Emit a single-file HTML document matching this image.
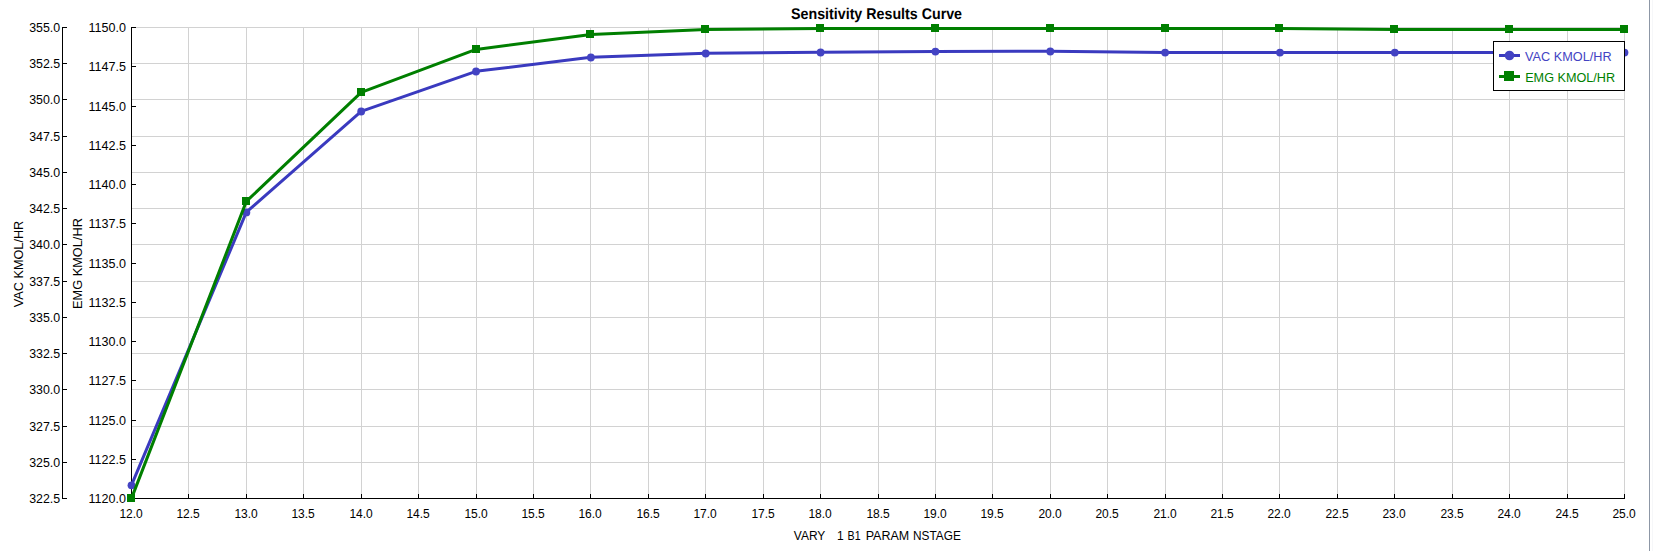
<!DOCTYPE html>
<html><head><meta charset="utf-8"><title>Sensitivity Results Curve</title>
<style>html,body{margin:0;padding:0;background:#fff;overflow:hidden}svg{display:block}</style>
</head><body>
<svg width="1653" height="551" viewBox="0 0 1653 551"><path d="M131 27.5H1625 M131 63.5H1625 M131 99.5H1625 M131 136.5H1625 M131 172.5H1625 M131 208.5H1625 M131 244.5H1625 M131 281.5H1625 M131 317.5H1625 M131 353.5H1625 M131 389.5H1625 M131 426.5H1625 M131 462.5H1625 M188.5 27V498 M246.5 27V498 M303.5 27V498 M361.5 27V498 M418.5 27V498 M476.5 27V498 M533.5 27V498 M590.5 27V498 M648.5 27V498 M705.5 27V498 M763.5 27V498 M820.5 27V498 M878.5 27V498 M935.5 27V498 M992.5 27V498 M1050.5 27V498 M1107.5 27V498 M1165.5 27V498 M1222.5 27V498 M1279.5 27V498 M1337.5 27V498 M1394.5 27V498 M1452.5 27V498 M1509.5 27V498 M1567.5 27V498 M1624.5 27V498" stroke="#d2d2d2" stroke-width="1" fill="none" shape-rendering="crispEdges"/>
<path d="M131.5 27V499 M131 498.5H1625 M62.5 27V499 M62 27.5H67 M62 63.5H67 M62 99.5H67 M62 136.5H67 M62 172.5H67 M62 208.5H67 M62 244.5H67 M62 281.5H67 M62 317.5H67 M62 353.5H67 M62 389.5H67 M62 426.5H67 M62 462.5H67 M62 498.5H67 M131 27.5H136 M131 66.5H136 M131 106.5H136 M131 145.5H136 M131 184.5H136 M131 223.5H136 M131 263.5H136 M131 302.5H136 M131 341.5H136 M131 380.5H136 M131 420.5H136 M131 459.5H136 M131 498.5H136 M131.5 494V499 M188.5 494V499 M246.5 494V499 M303.5 494V499 M361.5 494V499 M418.5 494V499 M476.5 494V499 M533.5 494V499 M590.5 494V499 M648.5 494V499 M705.5 494V499 M763.5 494V499 M820.5 494V499 M878.5 494V499 M935.5 494V499 M992.5 494V499 M1050.5 494V499 M1107.5 494V499 M1165.5 494V499 M1222.5 494V499 M1279.5 494V499 M1337.5 494V499 M1394.5 494V499 M1452.5 494V499 M1509.5 494V499 M1567.5 494V499 M1624.5 494V499" stroke="#000" stroke-width="1" fill="none" shape-rendering="crispEdges"/>
<polyline points="131.50,485.10 246.35,212.20 361.19,111.30 476.04,71.30 590.88,57.30 705.73,53.30 820.58,52.30 935.42,51.40 1050.27,51.30 1165.12,52.40 1279.96,52.40 1394.81,52.40 1509.65,52.40 1624.50,52.40" fill="none" stroke="#3a3abf" stroke-width="3" stroke-linejoin="round"/>
<circle cx="131.50" cy="485.30" r="3.9" fill="#4343c3"/>
<circle cx="246.35" cy="212.40" r="3.9" fill="#4343c3"/>
<circle cx="361.19" cy="111.50" r="3.9" fill="#4343c3"/>
<circle cx="476.04" cy="71.50" r="3.9" fill="#4343c3"/>
<circle cx="590.88" cy="57.50" r="3.9" fill="#4343c3"/>
<circle cx="705.73" cy="53.50" r="3.9" fill="#4343c3"/>
<circle cx="820.58" cy="52.50" r="3.9" fill="#4343c3"/>
<circle cx="935.42" cy="51.60" r="3.9" fill="#4343c3"/>
<circle cx="1050.27" cy="51.50" r="3.9" fill="#4343c3"/>
<circle cx="1165.12" cy="52.60" r="3.9" fill="#4343c3"/>
<circle cx="1279.96" cy="52.60" r="3.9" fill="#4343c3"/>
<circle cx="1394.81" cy="52.60" r="3.9" fill="#4343c3"/>
<circle cx="1509.65" cy="52.60" r="3.9" fill="#4343c3"/>
<circle cx="1624.50" cy="52.60" r="3.9" fill="#4343c3"/>
<polyline points="131.50,498.40 246.35,201.40 361.19,92.40 476.04,49.40 590.88,34.40 705.73,29.40 820.58,28.40 935.42,28.40 1050.27,28.40 1165.12,28.40 1279.96,28.40 1394.81,29.40 1509.65,29.40 1624.50,29.40" fill="none" stroke="#007f00" stroke-width="3" stroke-linejoin="round"/>
<rect x="127" y="494" width="8" height="8" fill="#007f00" shape-rendering="crispEdges"/>
<rect x="242" y="197" width="8" height="8" fill="#007f00" shape-rendering="crispEdges"/>
<rect x="357" y="88" width="8" height="8" fill="#007f00" shape-rendering="crispEdges"/>
<rect x="472" y="45" width="8" height="8" fill="#007f00" shape-rendering="crispEdges"/>
<rect x="586" y="30" width="8" height="8" fill="#007f00" shape-rendering="crispEdges"/>
<rect x="701" y="25" width="8" height="8" fill="#007f00" shape-rendering="crispEdges"/>
<rect x="816" y="24" width="8" height="8" fill="#007f00" shape-rendering="crispEdges"/>
<rect x="931" y="24" width="8" height="8" fill="#007f00" shape-rendering="crispEdges"/>
<rect x="1046" y="24" width="8" height="8" fill="#007f00" shape-rendering="crispEdges"/>
<rect x="1161" y="24" width="8" height="8" fill="#007f00" shape-rendering="crispEdges"/>
<rect x="1275" y="24" width="8" height="8" fill="#007f00" shape-rendering="crispEdges"/>
<rect x="1390" y="25" width="8" height="8" fill="#007f00" shape-rendering="crispEdges"/>
<rect x="1505" y="25" width="8" height="8" fill="#007f00" shape-rendering="crispEdges"/>
<rect x="1620" y="25" width="8" height="8" fill="#007f00" shape-rendering="crispEdges"/>
<g font-family='"Liberation Sans", sans-serif' font-size="12" fill="#000"><text x="60.2" y="31.6" text-anchor="end" textLength="31.0" lengthAdjust="spacingAndGlyphs">355.0</text><text x="60.2" y="67.6" text-anchor="end" textLength="31.0" lengthAdjust="spacingAndGlyphs">352.5</text><text x="60.2" y="103.6" text-anchor="end" textLength="31.0" lengthAdjust="spacingAndGlyphs">350.0</text><text x="60.2" y="140.6" text-anchor="end" textLength="31.0" lengthAdjust="spacingAndGlyphs">347.5</text><text x="60.2" y="176.6" text-anchor="end" textLength="31.0" lengthAdjust="spacingAndGlyphs">345.0</text><text x="60.2" y="212.6" text-anchor="end" textLength="31.0" lengthAdjust="spacingAndGlyphs">342.5</text><text x="60.2" y="248.6" text-anchor="end" textLength="31.0" lengthAdjust="spacingAndGlyphs">340.0</text><text x="60.2" y="285.6" text-anchor="end" textLength="31.0" lengthAdjust="spacingAndGlyphs">337.5</text><text x="60.2" y="321.6" text-anchor="end" textLength="31.0" lengthAdjust="spacingAndGlyphs">335.0</text><text x="60.2" y="357.6" text-anchor="end" textLength="31.0" lengthAdjust="spacingAndGlyphs">332.5</text><text x="60.2" y="393.6" text-anchor="end" textLength="31.0" lengthAdjust="spacingAndGlyphs">330.0</text><text x="60.2" y="430.6" text-anchor="end" textLength="31.0" lengthAdjust="spacingAndGlyphs">327.5</text><text x="60.2" y="466.6" text-anchor="end" textLength="31.0" lengthAdjust="spacingAndGlyphs">325.0</text><text x="60.2" y="502.6" text-anchor="end" textLength="31.0" lengthAdjust="spacingAndGlyphs">322.5</text><text x="126.0" y="31.6" text-anchor="end" textLength="37.5" lengthAdjust="spacingAndGlyphs">1150.0</text><text x="126.0" y="70.6" text-anchor="end" textLength="37.5" lengthAdjust="spacingAndGlyphs">1147.5</text><text x="126.0" y="110.6" text-anchor="end" textLength="37.5" lengthAdjust="spacingAndGlyphs">1145.0</text><text x="126.0" y="149.6" text-anchor="end" textLength="37.5" lengthAdjust="spacingAndGlyphs">1142.5</text><text x="126.0" y="188.6" text-anchor="end" textLength="37.5" lengthAdjust="spacingAndGlyphs">1140.0</text><text x="126.0" y="227.6" text-anchor="end" textLength="37.5" lengthAdjust="spacingAndGlyphs">1137.5</text><text x="126.0" y="267.6" text-anchor="end" textLength="37.5" lengthAdjust="spacingAndGlyphs">1135.0</text><text x="126.0" y="306.6" text-anchor="end" textLength="37.5" lengthAdjust="spacingAndGlyphs">1132.5</text><text x="126.0" y="345.6" text-anchor="end" textLength="37.5" lengthAdjust="spacingAndGlyphs">1130.0</text><text x="126.0" y="384.6" text-anchor="end" textLength="37.5" lengthAdjust="spacingAndGlyphs">1127.5</text><text x="126.0" y="424.6" text-anchor="end" textLength="37.5" lengthAdjust="spacingAndGlyphs">1125.0</text><text x="126.0" y="463.6" text-anchor="end" textLength="37.5" lengthAdjust="spacingAndGlyphs">1122.5</text><text x="126.0" y="502.6" text-anchor="end" textLength="37.5" lengthAdjust="spacingAndGlyphs">1120.0</text><text x="131.1" y="517.6" text-anchor="middle">12.0</text><text x="188.1" y="517.6" text-anchor="middle">12.5</text><text x="246.1" y="517.6" text-anchor="middle">13.0</text><text x="303.1" y="517.6" text-anchor="middle">13.5</text><text x="361.1" y="517.6" text-anchor="middle">14.0</text><text x="418.1" y="517.6" text-anchor="middle">14.5</text><text x="476.1" y="517.6" text-anchor="middle">15.0</text><text x="533.1" y="517.6" text-anchor="middle">15.5</text><text x="590.1" y="517.6" text-anchor="middle">16.0</text><text x="648.1" y="517.6" text-anchor="middle">16.5</text><text x="705.1" y="517.6" text-anchor="middle">17.0</text><text x="763.1" y="517.6" text-anchor="middle">17.5</text><text x="820.1" y="517.6" text-anchor="middle">18.0</text><text x="878.1" y="517.6" text-anchor="middle">18.5</text><text x="935.1" y="517.6" text-anchor="middle">19.0</text><text x="992.1" y="517.6" text-anchor="middle">19.5</text><text x="1050.1" y="517.6" text-anchor="middle">20.0</text><text x="1107.1" y="517.6" text-anchor="middle">20.5</text><text x="1165.1" y="517.6" text-anchor="middle">21.0</text><text x="1222.1" y="517.6" text-anchor="middle">21.5</text><text x="1279.1" y="517.6" text-anchor="middle">22.0</text><text x="1337.1" y="517.6" text-anchor="middle">22.5</text><text x="1394.1" y="517.6" text-anchor="middle">23.0</text><text x="1452.1" y="517.6" text-anchor="middle">23.5</text><text x="1509.1" y="517.6" text-anchor="middle">24.0</text><text x="1567.1" y="517.6" text-anchor="middle">24.5</text><text x="1624.1" y="517.6" text-anchor="middle">25.0</text></g>
<text x="793.8" y="539.6" font-family='"Liberation Sans", sans-serif' font-size="12" fill="#000">VARY</text>
<text x="836.9" y="539.6" font-family='"Liberation Sans", sans-serif' font-size="12" fill="#000">1</text>
<text x="847.6" y="539.6" font-family='"Liberation Sans", sans-serif' font-size="12" fill="#000" textLength="13.0" lengthAdjust="spacingAndGlyphs">B1</text>
<text x="865.7" y="539.6" font-family='"Liberation Sans", sans-serif' font-size="12" fill="#000" textLength="43.5" lengthAdjust="spacingAndGlyphs">PARAM</text>
<text x="913.0" y="539.6" font-family='"Liberation Sans", sans-serif' font-size="12" fill="#000" textLength="47.8" lengthAdjust="spacingAndGlyphs">NSTAGE</text>
<text transform="translate(23.2 264.0) rotate(-90)" text-anchor="middle" textLength="86.4" lengthAdjust="spacingAndGlyphs" font-family='"Liberation Sans", sans-serif' font-size="12" fill="#000">VAC KMOL/HR</text>
<text transform="translate(82.4 263.6) rotate(-90)" text-anchor="middle" textLength="90.9" lengthAdjust="spacingAndGlyphs" font-family='"Liberation Sans", sans-serif' font-size="12" fill="#000">EMG KMOL/HR</text>
<text x="876.55" y="18.9" text-rendering="geometricPrecision" text-anchor="middle" textLength="171.0" lengthAdjust="spacingAndGlyphs" font-family='"Liberation Sans", sans-serif' font-size="15.5" font-weight="bold" fill="#000">Sensitivity Results Curve</text>
<rect x="1493.5" y="41.5" width="131" height="49" fill="#fff" stroke="#000" stroke-width="1" shape-rendering="crispEdges"/>
<rect x="1499" y="54" width="20.5" height="3" fill="#3a3abf" shape-rendering="crispEdges"/>
<circle cx="1509.5" cy="55.5" r="4.8" fill="#4343c3"/>
<text x="1525.1" y="61.0" textLength="86.5" lengthAdjust="spacingAndGlyphs" font-family='"Liberation Sans", sans-serif' font-size="12" fill="#4343c3">VAC KMOL/HR</text>
<rect x="1499" y="75" width="20.5" height="3" fill="#007f00" shape-rendering="crispEdges"/>
<rect x="1504" y="71" width="10" height="10" fill="#007f00" shape-rendering="crispEdges"/>
<text x="1525.2" y="81.7" textLength="89.9" lengthAdjust="spacingAndGlyphs" font-family='"Liberation Sans", sans-serif' font-size="12" fill="#007f00">EMG KMOL/HR</text>
<rect x="1649" y="0" width="1" height="551" fill="#8d97a6"/>
<rect x="1652" y="0" width="1" height="551" fill="#f6f7f9"/></svg>
</body></html>
